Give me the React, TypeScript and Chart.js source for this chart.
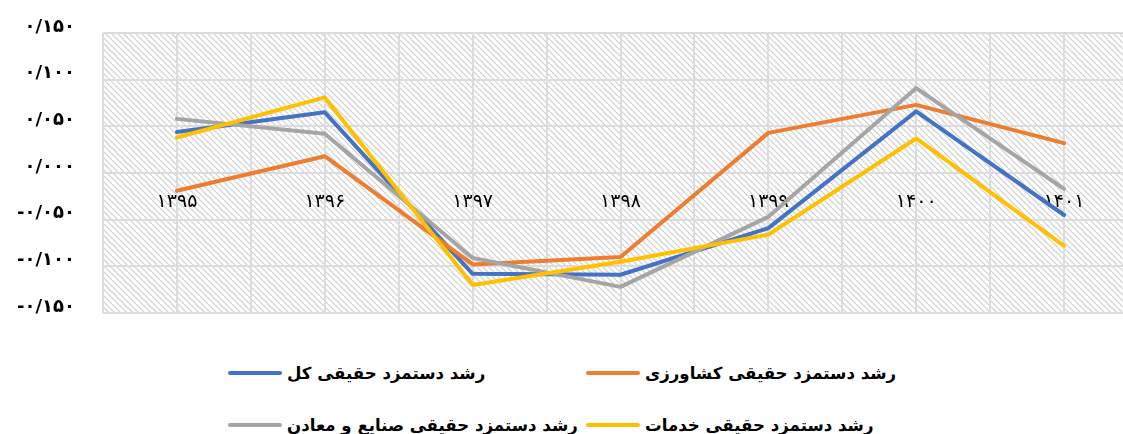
import React, { useEffect, useRef } from 'react';
import { Chart, registerables } from 'chart.js';

Chart.register(...registerables);

const years = ['۱۳۹۵', '۱۳۹۶', '۱۳۹۷', '۱۳۹۸', '۱۳۹۹', '۱۴۰۰', '۱۴۰۱'];

const seriesNames = [
  'رشد دستمزد حقیقی کل',
  'رشد دستمزد حقیقی کشاورزی',
  'رشد دستمزد حقیقی صنایع و معادن',
  'رشد دستمزد حقیقی خدمات',
];

const totalGrowth = [0.044, 0.065, -0.108, -0.109, -0.059, 0.066, -0.045];
const agricultureGrowth = [-0.019, 0.018, -0.098, -0.090, 0.043, 0.073, 0.032];
const industryGrowth = [0.058, 0.042, -0.091, -0.122, -0.047, 0.091, -0.017];
const servicesGrowth = [0.038, 0.081, -0.120, -0.095, -0.066, 0.037, -0.078];

const seriesColors = ['#4472C4', '#ED7D31', '#A5A5A5', '#FFC000'];

const yTickValues = [-0.15, -0.1, -0.05, 0, 0.05, 0.1, 0.15];
const yTickLabels = ['-۰/۱۵۰', '-۰/۱۰۰', '-۰/۰۵۰', '۰/۰۰۰', '۰/۰۵۰', '۰/۱۰۰', '۰/۱۵۰'];

const allSeries = [totalGrowth, agricultureGrowth, industryGrowth, servicesGrowth];

const FONT = '"DejaVu Sans", sans-serif';

const hatchPlugin = {
  id: 'hatchBackground',
  beforeDraw(chart: any) {
    const { ctx, chartArea: a } = chart;
    const size = 6;
    const tile = document.createElement('canvas');
    tile.width = size;
    tile.height = size;
    const t = tile.getContext('2d')!;
    t.fillStyle = '#ffffff';
    t.fillRect(0, 0, size, size);
    t.strokeStyle = '#cfcfcf';
    t.lineWidth = 1.2;
    t.beginPath();
    t.moveTo(0, 0);
    t.lineTo(size, size);
    t.moveTo(-1, size - 1);
    t.lineTo(1, size + 1);
    t.moveTo(size - 1, -1);
    t.lineTo(size + 1, 1);
    t.stroke();
    const pattern = ctx.createPattern(tile, 'repeat');
    ctx.save();
    ctx.fillStyle = pattern;
    ctx.fillRect(a.left, a.top, a.right - a.left, a.bottom - a.top);
    ctx.restore();
  },
};

export default function App() {
  const canvasRef = useRef<HTMLCanvasElement | null>(null);

  useEffect(() => {
    if (!canvasRef.current) return;
    const chart = new Chart(canvasRef.current, {
      type: 'line',
      data: {
        datasets: allSeries.map((vals, i) => ({
          label: seriesNames[i],
          data: vals.map((v, j) => ({ x: j, y: v })),
          borderColor: seriesColors[i],
          backgroundColor: seriesColors[i],
          borderWidth: 4,
          pointRadius: 0,
          tension: 0,
          order: 4 - i,
          borderCapStyle: 'round',
          borderJoinStyle: 'round',
        })),
      },
      options: {
        responsive: false,
        animation: false,
        layout: { padding: { top: 33, right: 22, bottom: 17, left: 0 } },
        plugins: {
          legend: { display: false },
          tooltip: { enabled: false },
        },
        scales: {
          x: {
            type: 'linear',
            position: { y: 0 },
            min: -0.5,
            max: 6.5,
            ticks: {
              stepSize: 0.5,
              maxTicksLimit: 30,
              autoSkip: false,
              maxRotation: 0,
              padding: 0,
              color: '#000',
              font: { family: FONT, size: 19 },
              callback: (v: any) => (Number.isInteger(v) ? years[v] : ''),
            },
            grid: {
              color: '#dcdcdc',
              lineWidth: 2,
              drawTicks: true,
              tickLength: 18,
              tickColor: 'rgba(0,0,0,0)',
            },
            border: { display: false },
          },
          y: {
            min: -0.15,
            max: 0.15,
            afterFit: (scale: any) => {
              scale.width = 103;
            },
            ticks: {
              stepSize: 0.05,
              padding: 3,
              labelOffset: -6,
              color: '#000',
              font: { family: FONT, size: 18, weight: 'bold' },
              callback: (v: any) => {
                let idx = 0;
                let best = Infinity;
                yTickValues.forEach((tv, k) => {
                  const d = Math.abs(tv - v);
                  if (d < best) {
                    best = d;
                    idx = k;
                  }
                });
                return yTickLabels[idx];
              },
            },
            grid: {
              color: '#dcdcdc',
              lineWidth: 2,
              drawTicks: true,
              tickLength: 25,
              tickColor: 'rgba(0,0,0,0)',
            },
            border: { display: false },
          },
        },
      } as any,
      plugins: [hatchPlugin],
    });
    return () => chart.destroy();
  }, []);

  const legendPos = [
    { left: 228, top: 373 },
    { left: 586, top: 373 },
    { left: 228, top: 425 },
    { left: 586, top: 425 },
  ];

  return (
    <div
      style={{
        position: 'fixed',
        left: 0,
        top: 0,
        width: 1123,
        height: 434,
        overflow: 'hidden',
        background: '#ffffff',
      }}
    >
      <canvas ref={canvasRef} width={1160} height={330} style={{ display: 'block' }} />
      {seriesNames.map((name, i) => (
        <div
          key={name}
          style={{
            position: 'absolute',
            left: legendPos[i].left,
            top: legendPos[i].top - 12,
            height: 24,
            display: 'flex',
            alignItems: 'center',
            whiteSpace: 'nowrap',
          }}
        >
          <span
            style={{
              display: 'inline-block',
              width: 54,
              height: 4,
              borderRadius: 2,
              background: seriesColors[i],
              marginRight: 5,
            }}
          />
          <span
            style={{
              fontFamily: FONT,
              fontWeight: 'bold',
              fontSize: 16.6,
              color: '#000',
            }}
          >
            {name}
          </span>
        </div>
      ))}
    </div>
  );
}
